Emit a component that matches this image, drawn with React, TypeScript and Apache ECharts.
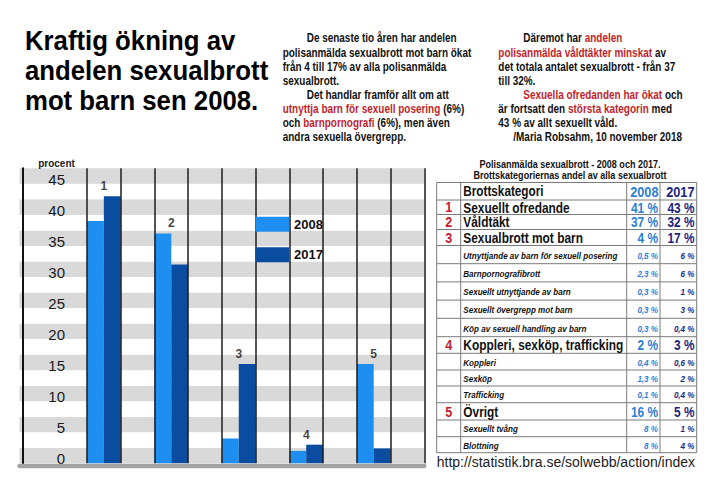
import React, { useEffect, useRef } from 'react';
import * as echarts from 'echarts';

// ---------- chart data ----------
const groupLabels = ['1', '2', '3', '4', '5'];
const values2008 = [39, 37, 4, 2, 16];
const values2017 = [43, 32, 16, 3, 2.4];
const seriesNames = ['2008', '2017'];
const slotCount = 12;
const firstGroupSlot = 2;

// ---------- texts ----------
const titleLines = ['Kraftig ökning av', 'andelen sexualbrott', 'mot barn sen 2008.'];
type Seg = [string, boolean];
const middleLines: { indent: number; segs: Seg[] }[] = [
  { indent: 1, segs: [['De senaste tio åren har andelen', false]] },
  { indent: 0, segs: [['polisanmälda sexualbrott mot barn ökat', false]] },
  { indent: 0, segs: [['från 4 till 17% av alla polisanmälda', false]] },
  { indent: 0, segs: [['sexualbrott.', false]] },
  { indent: 1, segs: [['Det handlar framför allt om att', false]] },
  { indent: 0, segs: [['utnyttja barn för sexuell posering', true], [' (6%)', false]] },
  { indent: 0, segs: [['och ', false], ['barnpornografi', true], [' (6%), men även', false]] },
  { indent: 0, segs: [['andra sexuella övergrepp.', false]] },
];
const rightLines: { indent: number; segs: Seg[] }[] = [
  { indent: 1, segs: [['Däremot har ', false], ['andelen', true]] },
  { indent: 0, segs: [['polisanmälda våldtäkter minskat', true], [' av', false]] },
  { indent: 0, segs: [['det totala antalet sexualbrott - från 37', false]] },
  { indent: 0, segs: [['till 32%.', false]] },
  { indent: 1, segs: [['Sexuella ofredanden har ökat', true], [' och', false]] },
  { indent: 0, segs: [['är fortsatt den ', false], ['största kategorin', true], [' med', false]] },
  { indent: 0, segs: [['43 % av allt sexuellt våld.', false]] },
  { indent: 2, segs: [['/Maria Robsahm, 10 november 2018', false]] },
];

// ---------- table data ----------
const tableTitle = ['Polisanmälda sexualbrott - 2008 och 2017.', 'Brottskategoriernas andel av alla sexualbrott'];
const tableHeader = ['Brottskategori', '2008', '2017'];
const tableRanks = ['1', '2', '3', '', '', '', '', '', '4', '', '', '', '5', '', ''];
const tableCategories = [
  'Sexuellt ofredande', 'Våldtäkt', 'Sexualbrott mot barn',
  'Utnyttjande av barn för sexuell posering', 'Barnpornografibrott', 'Sexuellt utnyttjande av barn',
  'Sexuellt övergrepp mot barn', 'Köp av sexuell handling av barn',
  'Koppleri, sexköp, trafficking', 'Koppleri', 'Sexköp', 'Trafficking',
  'Övrigt', 'Sexuellt tvång', 'Blottning',
];
const table2008 = ['41 %', '37 %', '4 %', '0,5 %', '2,3 %', '0,3 %', '0,3 %', '0,3 %', '2 %', '0,4 %', '1,3 %', '0,1 %', '16 %', '8 %', '8 %'];
const table2017 = ['43 %', '32 %', '17 %', '6 %', '6 %', '1 %', '3 %', '0,4 %', '3 %', '0,6 %', '2 %', '0,4 %', '5 %', '1 %', '4 %'];
const sourceText = 'http://statistik.bra.se/solwebb/action/index';

// ---------- styles ----------
const FONT = '"Liberation Sans", Arial, Helvetica, sans-serif';
const RED = '#c21f2b';
const LIGHT = '#1e8ff0';
const DARK = '#0a4c9f';
const T2008 = '#2b7fd3';
const T2017 = '#1c2580';

function textEl(x: number, y: number, text: string, o: any) {
  return {
    type: 'text', x, y, scaleX: o.sx ?? 1, silent: true, z: 10,
    style: {
      text, fill: o.color ?? '#111', fontSize: o.size, fontWeight: o.weight ?? 'bold',
      fontStyle: o.italic ? 'italic' : 'normal', fontFamily: o.family ?? FONT,
      align: o.align ?? 'left', verticalAlign: 'middle',
    },
  };
}

function richLine(x: number, y: number, segs: Seg[], size: number, sx: number) {
  const base = { fontSize: size, fontWeight: 'bold', fontFamily: FONT };
  return {
    type: 'text', x, y, scaleX: sx, silent: true, z: 10,
    style: {
      text: segs.map(([t, red]) => `{${red ? 'r' : 'k'}|${t}}`).join(''),
      rich: { k: { ...base, fill: '#111' }, r: { ...base, fill: RED } },
      ...base, fill: '#111', align: 'left', verticalAlign: 'middle',
    },
  };
}

function buildGraphics() {
  const g: any[] = [];
  titleLines.forEach((t, i) => g.push(textEl(25, 41 + i * 30, t, { size: 28, sx: 0.92, color: '#000' })));
  const midX = [282.7, 306.7, 297];
  middleLines.forEach((l, i) => g.push(richLine(midX[l.indent], 38.1 + i * 14.05, l.segs, 12, 0.83)));
  const rX = [498.3, 523.3, 513.3];
  rightLines.forEach((l, i) => g.push(richLine(rX[l.indent], 38.1 + i * 14.05, l.segs, 12, 0.83)));

  // table
  const TX = [436.7, 460.7, 626.7, 660, 696.7];
  const TY = [182.5, 200, 214.5, 229.5, 245.5, 263.7, 281.9, 300.1, 318.3, 336.7, 353.3, 370, 386, 402.7, 420, 436.7, 452.7];
  tableTitle.forEach((t, i) => g.push(textEl(570, 164 + i * 11.5, t, { size: 10.5, sx: 0.86, align: 'center' })));
  TY.forEach((y) => g.push({ type: 'line', silent: true, z: 9, shape: { x1: TX[0], y1: y, x2: TX[4], y2: y }, style: { stroke: '#7a7a7a', lineWidth: 1 } }));
  TX.forEach((x) => g.push({ type: 'line', silent: true, z: 9, shape: { x1: x, y1: TY[0], x2: x, y2: TY[TY.length - 1] }, style: { stroke: '#7a7a7a', lineWidth: 1 } }));
  const hm = (TY[0] + TY[1]) / 2;
  g.push(textEl(TX[1] + 2.6, hm, tableHeader[0], { size: 14, sx: 0.84 }));
  g.push(textEl(TX[3] - 1.5, hm, tableHeader[1], { size: 15, sx: 0.85, align: 'right', color: T2008 }));
  g.push(textEl(TX[4] - 2.2, hm, tableHeader[2], { size: 15, sx: 0.85, align: 'right', color: T2017 }));
  tableCategories.forEach((cat, i) => {
    const r = i + 1;
    const main = tableRanks[i] !== '';
    const mid = (TY[r] + TY[r + 1]) / 2 + (main ? 0.5 : 0.8);
    const size = main ? 14 : 9.5;
    const italic = !main;
    if (main) g.push(textEl((TX[0] + TX[1]) / 2, mid, tableRanks[i], { size: 14, sx: 0.9, align: 'center', color: RED }));
    g.push(textEl(TX[1] + 2.6, mid, cat, { size, sx: 0.85, italic }));
    g.push(textEl(TX[3] - 2, mid, table2008[i], { size, sx: 0.85, italic, align: 'right', color: T2008 }));
    g.push(textEl(TX[4] - 2.2, mid, table2017[i], { size, sx: 0.85, italic, align: 'right', color: T2017 }));
  });
  g.push(textEl(436.7, 461.5, sourceText, { size: 14, weight: 'normal', color: '#222' }));
  return g;
}

export default function App() {
  const ref = useRef<HTMLDivElement>(null);
  useEffect(() => {
    if (!ref.current) return;
    const chart = echarts.init(ref.current, null, { renderer: 'svg' });
    const slots = Array.from({ length: slotCount }, (_, i) => 's' + i);
    const toSlots = (vals: number[]) =>
      slots.map((_, i) => {
        const gi = (i - firstGroupSlot) / 2;
        return Number.isInteger(gi) && gi >= 0 && gi < vals.length ? vals[gi] : '-';
      });
    const labelData = groupLabels.map((name, gi) => ({
      name,
      value: [firstGroupSlot + 2 * gi, Math.max(values2008[gi], values2017[gi])],
    }));
    const option: any = {
      animation: false,
      backgroundColor: '#ffffff',
      textStyle: { fontFamily: FONT },
      grid: { left: 19.5, right: 295.7, top: 168.3, bottom: 30.7 },
      legend: {
        data: seriesNames, orient: 'vertical', left: 255.5, top: 216.7, padding: 0,
        itemWidth: 33.5, itemHeight: 15, itemGap: 15.5, icon: 'rect', selectedMode: false, z: 6,
        textStyle: { fontSize: 13, fontWeight: 'bold', color: '#111', fontFamily: FONT },
      },
      xAxis: {
        type: 'category', data: slots, boundaryGap: true, z: 3, offset: 2.2,
        axisLabel: { show: false }, axisTick: { show: false },
        axisLine: { show: true, onZero: false, lineStyle: { color: '#a3a3a3', width: 4.4 } },
        splitLine: { show: true, interval: (i: number) => i >= firstGroupSlot, lineStyle: { color: '#1c1c1c', width: 1.5 } },
      },
      yAxis: {
        type: 'value', min: 0, max: 47.5, interval: 2.5, offset: -3, z: 0,
        axisLine: { show: true, onZero: false, lineStyle: { color: '#111', width: 2 } },
        axisTick: { show: false },
        splitLine: { show: false },
        splitArea: { show: true, areaStyle: { color: ['#d9d9d9', '#ffffff'] } },
        axisLabel: {
          inside: true, align: 'right', margin: 42.5, fontSize: 15, color: '#1a1a1a', fontFamily: FONT,
          verticalAlign: 'bottom', lineHeight: 9,
          formatter: (v: number) => (v % 5 === 0 ? String(v) : ''),
        },
        name: 'procent', nameLocation: 'end', nameGap: 0,
        nameTextStyle: { fontSize: 10, fontWeight: 'bold', color: '#222', align: 'center', verticalAlign: 'bottom', padding: [0, 0, 0, 68], fontFamily: FONT },
      },
      series: [
        { name: seriesNames[0], type: 'bar', data: toSlots(values2008), itemStyle: { color: LIGHT }, barGap: '0%', barCategoryGap: '0%', z: 2, silent: true },
        { name: seriesNames[1], type: 'bar', data: toSlots(values2017), itemStyle: { color: DARK }, barGap: '0%', barCategoryGap: '0%', z: 2, silent: true },
        {
          type: 'scatter', data: labelData, symbolSize: 0.1, itemStyle: { color: 'transparent' }, z: 5, silent: true,
          label: { show: true, position: 'top', distance: 4, formatter: '{b}', fontSize: 12, fontWeight: 'bold', color: '#111', fontFamily: FONT },
        },
      ],
      graphic: buildGraphics(),
    };
    chart.setOption(option);
    return () => chart.dispose();
  }, []);
  return (
    <div
      ref={ref}
      style={{ position: 'absolute', left: 0, top: 0, width: 720, height: 494, background: '#fff' }}
    />
  );
}
